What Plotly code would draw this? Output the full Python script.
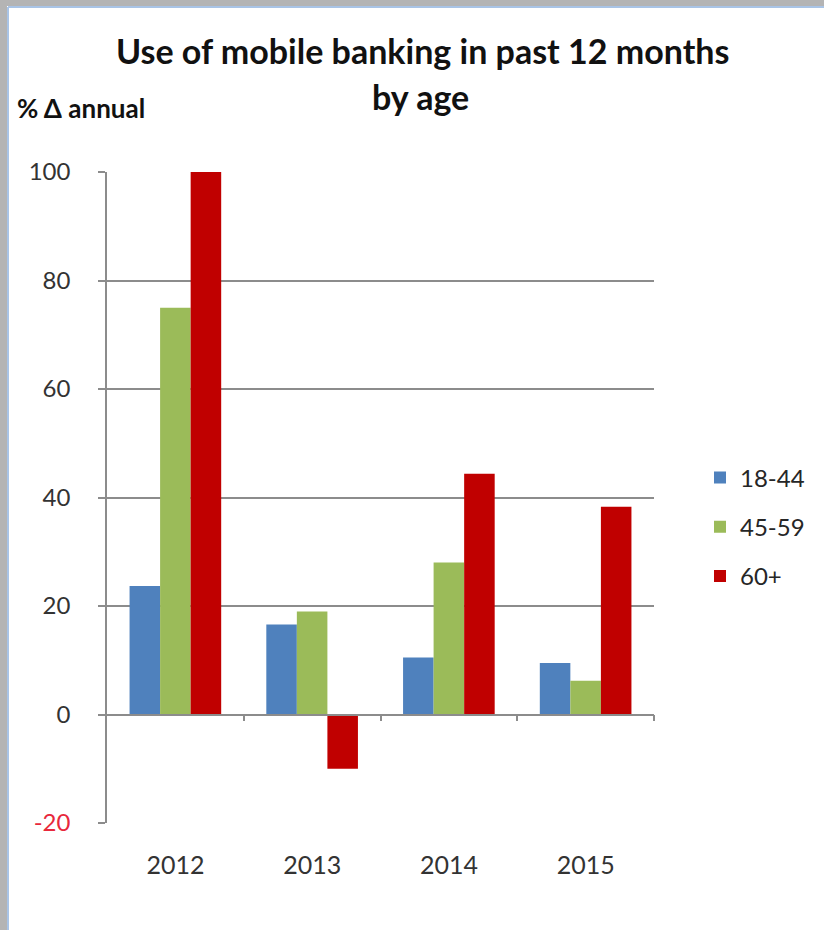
import plotly.graph_objects as go

# ---- data ----
years = ["2012", "2013", "2014", "2015"]
age_18_44 = [23.7, 16.6, 10.5, 9.5]
age_45_59 = [75.0, 19.0, 28.0, 6.2]
age_60_plus = [100.0, -10.0, 44.4, 38.3]
series_names = ["18-44", "45-59", "60+"]
y_tick_vals = [-20, 0, 20, 40, 60, 80, 100]

colors = ["#4F81BD", "#9BBB59", "#C00000"]
W, H = 824, 930
ML, MR, MT, MB = 107, 170, 172, 107
PW, PH = W - ML - MR, H - MT - MB


def px(x):
    return (x - ML) / PW


def py(y):
    return (H - MB - y) / PH


FONT = "Lato"
TXT = "#262626"

fig = go.Figure()
for name, vals, c in zip(series_names, [age_18_44, age_45_59, age_60_plus], colors):
    fig.add_trace(go.Bar(x=years, y=vals, name=name, marker_color=c,
                         marker_line_width=0, legendgroup=name))

# dummy trace to attach the zero-line axis
fig.add_trace(go.Scatter(x=[0.5], y=[0], xaxis="x2", mode="markers",
                         marker=dict(opacity=0), showlegend=False, hoverinfo="skip"))

ytext = []
for v in y_tick_vals:
    if v < 0:
        ytext.append('<span style="color:#E8283C">%d</span>' % v)
    else:
        ytext.append(str(v))

fig.update_layout(
    width=W, height=H,
    margin=dict(l=ML, r=MR, t=MT, b=MB, pad=0),
    paper_bgcolor="white", plot_bgcolor="white",
    barmode="group", bargap=0.33, bargroupgap=0,
    font=dict(family=FONT, color=TXT),
    xaxis=dict(type="category", range=[-0.5, 3.5], showgrid=False, showline=False,
               ticks="", tickfont=dict(size=25, color="#333333"),
               ticklabelstandoff=25, zeroline=False),
    xaxis2=dict(overlaying="x", anchor="free", position=20 / 120, range=[-0.5, 3.5],
                showline=True, linecolor="#8C8C8C", linewidth=1.5,
                ticks="outside", ticklen=6, tickwidth=1.5, tickcolor="#8C8C8C",
                tickvals=[0.5, 1.5, 2.5, 3.5], showticklabels=False,
                showgrid=False, zeroline=False),
    yaxis=dict(range=[-20, 100], tickvals=y_tick_vals, ticktext=ytext,
               showgrid=True, gridcolor="#8C8C8C", gridwidth=1.5,
               showline=True, linecolor="#8C8C8C", linewidth=1.5,
               ticks="outside", ticklen=7, tickwidth=1.5, tickcolor="#8C8C8C",
               tickfont=dict(size=24, color="#333333"), ticklabelstandoff=23,
               zeroline=False),
    legend=dict(x=px(700), xanchor="left", y=py(527), yanchor="middle",
                font=dict(size=24, color=TXT), tracegroupgap=15,
                bgcolor="rgba(0,0,0,0)"),
    showlegend=True,
)

fig.add_annotation(text="<b>Use of mobile banking in past 12 months</b>",
                   x=px(422), y=py(50), xref="paper", yref="paper",
                   xanchor="center", yanchor="middle", showarrow=False,
                   font=dict(size=34, color="#111111"))
fig.add_annotation(text="<b>by age</b>",
                   x=px(420), y=py(97), xref="paper", yref="paper",
                   xanchor="center", yanchor="middle", showarrow=False,
                   font=dict(size=34, color="#111111"))
fig.add_annotation(text="<b>% Δ annual</b>",
                   x=px(15), y=py(108), xref="paper", yref="paper",
                   xanchor="left", yanchor="middle", showarrow=False,
                   font=dict(size=26, color="#111111"))

# screenshot frame
fig.add_shape(type="rect", xref="paper", yref="paper",
              x0=px(-5), x1=px(7), y0=py(H + 5), y1=py(-5),
              fillcolor="#B4B4B4", line_width=0, layer="above")
fig.add_shape(type="rect", xref="paper", yref="paper",
              x0=px(-5), x1=px(W + 5), y0=py(6), y1=py(-5),
              fillcolor="#B4B4B4", line_width=0, layer="above")
fig.add_shape(type="line", xref="paper", yref="paper",
              x0=px(8), x1=px(8), y0=py(H + 5), y1=py(7),
              line=dict(color="#A9C4E6", width=2), layer="above")
fig.add_shape(type="line", xref="paper", yref="paper",
              x0=px(8), x1=px(W + 5), y0=py(7), y1=py(7),
              line=dict(color="#A9C4E6", width=2), layer="above")

fig.write_html("out.html", config={"displayModeBar": False},
               post_script="document.body.style.margin='0px';document.body.style.overflow='hidden';")
